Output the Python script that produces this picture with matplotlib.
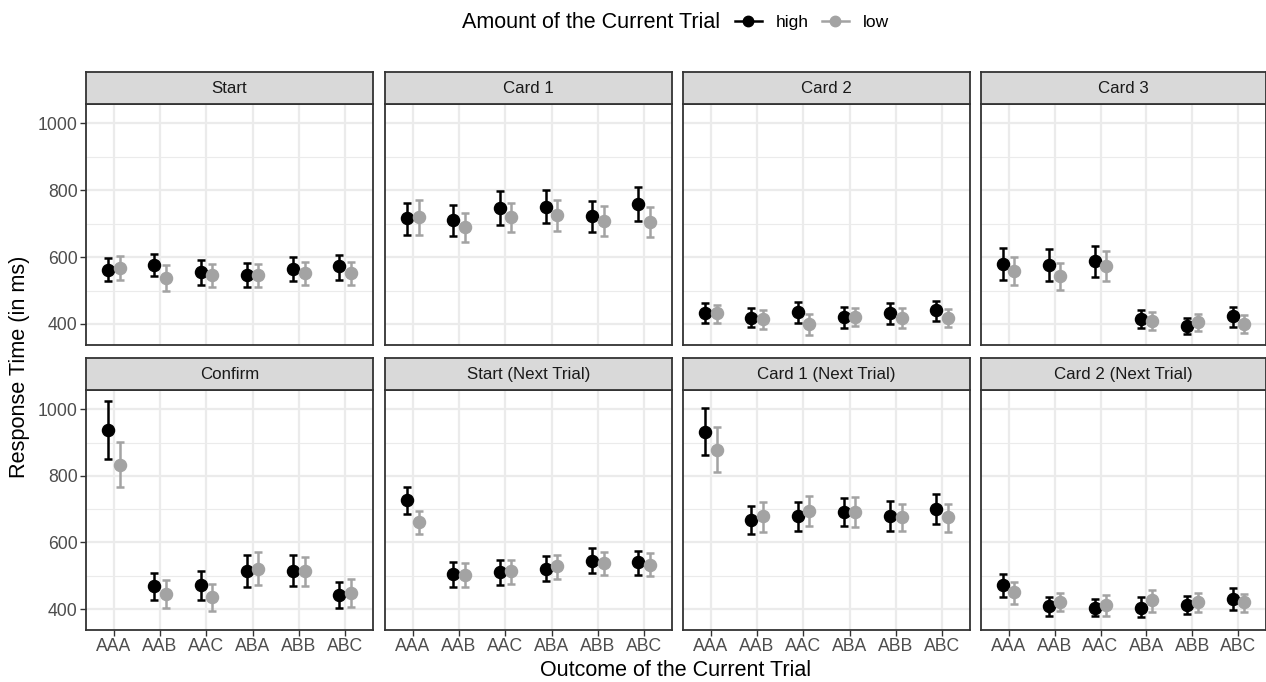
import matplotlib
matplotlib.use("Agg")
import matplotlib.pyplot as plt
from matplotlib.lines import Line2D
import numpy as np

plt.rcParams['font.family'] = ['Liberation Sans', 'DejaVu Sans']

categories = ["AAA", "AAB", "AAC", "ABA", "ABB", "ABC"]
panels = ["Start", "Card 1", "Card 2", "Card 3",
          "Confirm", "Start (Next Trial)", "Card 1 (Next Trial)", "Card 2 (Next Trial)"]

# mean, upper, lower per panel, for high and low amount
high_mean = {
    "Start": [562, 577, 554, 547, 564, 572],
    "Card 1": [717, 710, 747, 750, 722, 760],
    "Card 2": [433, 417, 436, 420, 432, 442],
    "Card 3": [579, 577, 587, 414, 394, 424],
    "Confirm": [938, 468, 471, 515, 515, 443],
    "Start (Next Trial)": [728, 505, 511, 521, 545, 540],
    "Card 1 (Next Trial)": [933, 668, 680, 691, 680, 701],
    "Card 2 (Next Trial)": [471, 408, 404, 404, 413, 431],
}
high_upper = {
    "Start": [597, 610, 590, 582, 600, 607],
    "Card 1": [762, 756, 797, 800, 767, 810],
    "Card 2": [462, 447, 465, 452, 462, 470],
    "Card 3": [626, 624, 632, 442, 419, 452],
    "Confirm": [1025, 508, 514, 563, 561, 482],
    "Start (Next Trial)": [768, 541, 548, 558, 583, 574],
    "Card 1 (Next Trial)": [1003, 710, 723, 735, 725, 746],
    "Card 2 (Next Trial)": [506, 436, 430, 435, 440, 463],
}
high_lower = {
    "Start": [527, 544, 517, 512, 527, 530],
    "Card 1": [667, 664, 697, 702, 674, 707],
    "Card 2": [402, 390, 404, 389, 400, 410],
    "Card 3": [530, 527, 539, 387, 369, 392],
    "Confirm": [850, 426, 428, 466, 468, 402],
    "Start (Next Trial)": [685, 466, 471, 484, 508, 502],
    "Card 1 (Next Trial)": [863, 626, 635, 648, 635, 655],
    "Card 2 (Next Trial)": [436, 378, 378, 375, 385, 398],
}
low_mean = {
    "Start": [567, 537, 547, 547, 552, 552],
    "Card 1": [720, 689, 720, 725, 707, 705],
    "Card 2": [432, 415, 400, 422, 419, 417],
    "Card 3": [559, 542, 574, 410, 405, 400],
    "Confirm": [833, 445, 436, 520, 513, 448],
    "Start (Next Trial)": [660, 503, 513, 528, 538, 533],
    "Card 1 (Next Trial)": [878, 678, 695, 691, 676, 675],
    "Card 2 (Next Trial)": [450, 421, 411, 426, 420, 420],
}
low_upper = {
    "Start": [602, 577, 580, 580, 584, 584],
    "Card 1": [770, 732, 762, 772, 752, 750],
    "Card 2": [457, 442, 430, 449, 449, 445],
    "Card 3": [599, 582, 619, 436, 431, 427],
    "Confirm": [901, 488, 476, 570, 556, 491],
    "Start (Next Trial)": [693, 538, 548, 563, 570, 568],
    "Card 1 (Next Trial)": [946, 723, 740, 736, 716, 716],
    "Card 2 (Next Trial)": [481, 448, 443, 456, 448, 446],
}
low_lower = {
    "Start": [532, 500, 512, 510, 517, 517],
    "Card 1": [667, 644, 676, 677, 662, 659],
    "Card 2": [404, 384, 367, 394, 387, 390],
    "Card 3": [517, 502, 527, 382, 378, 372],
    "Confirm": [766, 402, 395, 473, 470, 405],
    "Start (Next Trial)": [625, 466, 476, 490, 502, 498],
    "Card 1 (Next Trial)": [811, 631, 648, 645, 635, 630],
    "Card 2 (Next Trial)": [416, 393, 378, 391, 390, 391],
}

HIGH_COLOR = "#000000"
LOW_COLOR = "#A3A3A3"

W, H = 1266, 682
fig = plt.figure(figsize=(W / 100, H / 100), dpi=100)

def px_axes(x0, y0, x1, y1):
    return fig.add_axes([x0 / W, 1 - y1 / H, (x1 - x0) / W, (y1 - y0) / H])

col_x = [(86, 373), (385, 672), (683, 970), (981, 1266)]
row_y = [(104, 345), (390, 630)]
strip_h = 32

x = np.arange(1, len(categories) + 1)
dodge = 0.125

for i, name in enumerate(panels):
    r, c = divmod(i, 4)
    x0, x1 = col_x[c]
    y0, y1 = row_y[r]
    ax = px_axes(x0, y0, x1, y1)
    ax.set_facecolor("white")
    ax.set_xlim(0.4, 6.6)
    ax.set_ylim(337, 1058)
    ax.set_yticks([400, 600, 800, 1000])
    ax.set_yticks([500, 700, 900], minor=True)
    ax.set_xticks(x)
    ax.grid(True, which="major", color="#EBEBEB", linewidth=1.6, zorder=0)
    ax.grid(True, which="minor", axis="y", color="#EBEBEB", linewidth=0.8, zorder=0)
    ax.tick_params(axis="both", which="minor", length=0)
    ax.tick_params(axis="both", which="major", length=4, width=1, color="#333333",
                   labelsize=12.7, labelcolor="#4D4D4D", pad=2)
    ax.set_axisbelow(True)
    for sp in ax.spines.values():
        sp.set_color("#333333")
        sp.set_linewidth(1.3)
    if c == 0:
        ax.set_yticklabels(["400", "600", "800", "1000"])
    else:
        ax.tick_params(axis="y", which="major", length=0, labelleft=False)
    if r == 1:
        ax.set_xticklabels(categories)
    else:
        ax.tick_params(axis="x", which="major", length=0, labelbottom=False)

    for mean, up, lo, col, off in [
        (high_mean[name], high_upper[name], high_lower[name], HIGH_COLOR, -dodge),
        (low_mean[name], low_upper[name], low_lower[name], LOW_COLOR, dodge),
    ]:
        m = np.array(mean)
        yerr = np.vstack([m - np.array(lo), np.array(up) - m])
        ax.errorbar(x + off, m, yerr=yerr, fmt="o", color=col, ecolor=col,
                    markersize=8.7, elinewidth=1.8, capsize=2.6, capthick=1.8,
                    zorder=3)

    # strip
    sax = px_axes(x0, y0 - strip_h, x1, y0)
    sax.set_facecolor("#D9D9D9")
    sax.set_xticks([])
    sax.set_yticks([])
    for sp in sax.spines.values():
        sp.set_color("#333333")
        sp.set_linewidth(1.3)
    sax.text(0.5, 0.48, name, ha="center", va="center", fontsize=12.2,
             color="#1A1A1A", transform=sax.transAxes)

fig.text(20 / W, 1 - 367 / H, "Response Time (in ms)", rotation=90,
         ha="center", va="center", fontsize=15.7, color="black")
fig.text(676 / W, 1 - 670 / H, "Outcome of the Current Trial",
         ha="center", va="center", fontsize=15.5, color="black")

fig.text(591 / W, 1 - 22 / H, "Amount of the Current Trial",
         ha="center", va="center", fontsize=15.5, color="black")
handles = [
    Line2D([0], [0], color=HIGH_COLOR, marker="o", markersize=7.5, linewidth=1.8),
    Line2D([0], [0], color=LOW_COLOR, marker="o", markersize=7.5, linewidth=1.8),
]
fig.legend(handles, ["high", "low"], loc="center left",
           bbox_to_anchor=(735 / W, 1 - 22 / H), ncol=2, frameon=False,
           handlelength=1.55, handletextpad=0.8, columnspacing=0.75,
           fontsize=12.5, borderaxespad=0, borderpad=0)

fig.savefig("out.png", dpi=100, facecolor="white")
